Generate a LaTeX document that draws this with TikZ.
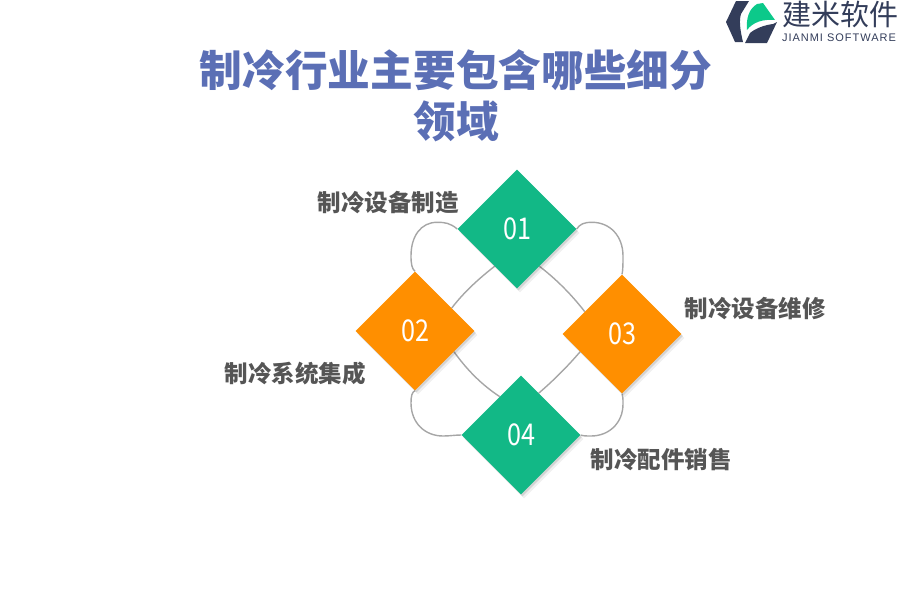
\documentclass[tikz,border=0pt]{standalone}
\usepackage{fontspec}
\setmainfont{Noto Sans CJK SC}
\newfontfamily\logolatin[LetterSpace=9]{Liberation Sans}
\newfontfamily\itemfont[FakeStretch=0.84]{Noto Sans CJK SC}
\usetikzlibrary{shapes.geometric, shadows, backgrounds}
\definecolor{titleblue}{HTML}{5B6FB5}
\definecolor{labelgray}{HTML}{555555}
\definecolor{linegray}{HTML}{A6A6A6}
\definecolor{itemgreen}{HTML}{12B886}
\definecolor{itemorange}{HTML}{FF8F00}
\definecolor{logodark}{HTML}{333D5A}
\definecolor{logogreen}{HTML}{0CC98A}
\begin{document}
\begin{tikzpicture}[line join=round, x=1pt, y=-1pt]
    \tikzset{
        item/.style={diamond, draw=none, inner sep=0pt, aspect=1, minimum size=119pt, text=white,
            font=\fontsize{30}{30}\itemfont,
            drop shadow={shadow xshift=3pt, shadow yshift=-4pt, opacity=.06, fill=black},
            drop shadow={shadow xshift=1.5pt, shadow yshift=-2pt, opacity=.12, fill=black}},
        label/.style={text=labelgray, font=\fontsize{23.5}{26}\selectfont\bfseries},
        link/.style={draw=linegray, line width=1.4pt},
        jianmi logo/.pic={
            \fill[logodark] (736,1) -- (749,1) -- (741,14) .. controls (739,20) and (740,30) .. (743,42) -- (735,42) -- (726,22) -- cycle;
            \fill[logodark] (745,43) -- (750,33) .. controls (756,28) and (765,25) .. (773,24) -- (777,22) -- (767,43) -- cycle;
            \fill[logogreen] (747,30) .. controls (746,18) and (749,9) .. (757,4) -- (763,3) -- (775,20) .. controls (763,19) and (753,22) .. (747,30) -- cycle;
        }
    }
    \useasboundingbox (0,0) rectangle (900,600);
    \node[text=titleblue, align=center, font=\fontsize{42.7}{51}\selectfont\bfseries] (title) at (456,96)
        {制冷行业主要包含哪些细分\\领域};
    \pic at (0,0) {jianmi logo};
    \node[font=\fontsize{29}{29}\selectfont, text=logodark] (logoname) at (840,14) {建米软件};
    \node[font=\fontsize{11}{11}\logolatin, text=logodark] (logosub) at (839,38) {JIANMI SOFTWARE};
    \foreach \name/\xpos/\ypos/\col in {01/517/229/itemgreen, 02/415/331/itemorange,
        03/622/334/itemorange, 04/521/435/itemgreen}{
        \node[item, fill=\col] (d\name) at (\xpos,\ypos) {\name};
    }
    \node[label] (l01) at (388,203) {制冷设备制造};
    \node[label] (l02) at (295,374) {制冷系统集成};
    \node[label] (l03) at (755,309) {制冷设备维修};
    \node[label] (l04) at (661,460) {制冷配件销售};
    \begin{scope}[on background layer]
        % outer loops
        \draw[link] (d01.west) .. controls (450,223) and (445,222.3) .. (437,222.3)
            .. controls (421,222.3) and (411,236) .. (411,256)
            .. controls (411,264) and (412,269) .. (d02.north);
        \draw[link] (d01.east) .. controls (580,224) and (584,222.3) .. (592,222.3)
            .. controls (610,222.3) and (623,236) .. (623,256)
            .. controls (623,264) and (623,270) .. (d03.north);
        \draw[link] (d02.south) .. controls (412,392) and (411,396) .. (411,403)
            .. controls (411,423) and (425,436) .. (443,436)
            .. controls (450,436) and (455,435) .. (d04.west);
        \draw[link] (d03.south) .. controls (623,396) and (623,399) .. (623,404)
            .. controls (623,423) and (609,436) .. (591,436)
            .. controls (587,436) and (583,436) .. (d04.east);
        % inner links
        \draw[link] (d01.239) .. controls (479,278.5) and (464,292) .. (d02.32);
        \draw[link] (d01.301) .. controls (556,279) and (571,294) .. (d03.149);
        \draw[link] (d02.-28) .. controls (467,370) and (482,385) .. (d04.119);
        \draw[link] (d03.203) .. controls (567,367) and (554,380) .. (d04.67);
    \end{scope}
\end{tikzpicture}
\end{document}
